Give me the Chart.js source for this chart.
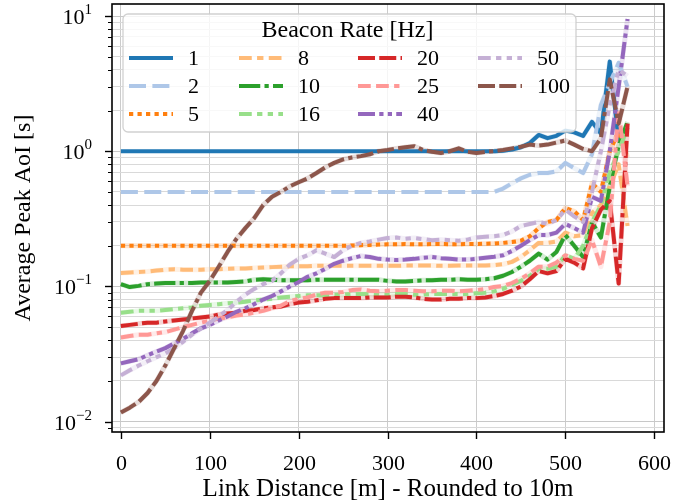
<!DOCTYPE html>
<html>
<head>
<meta charset="utf-8">
<title>Average Peak AoI vs Link Distance</title>
<script src="https://cdn.jsdelivr.net/npm/chart.js@4.4.1/dist/chart.umd.min.js"></script>
<style>
  html, body { margin: 0; padding: 0; background: #ffffff; }
</style>
</head>
<body>
<canvas id="aoiChart" width="697" height="504"></canvas>
<script>
// link distance, rounded to 10 m
const distances = [0, 10, 20, 30, 40, 50, 60, 70, 80, 90,
  100, 110, 120, 130, 140, 150, 160, 170, 180, 190,
  200, 210, 220, 230, 240, 250, 260, 270, 280, 290,
  300, 310, 320, 330, 340, 350, 360, 370, 380, 390,
  400, 410, 420, 430, 440, 450, 460, 470, 480, 490,
  500, 510, 520, 530, 540, 550, 560, 570];

const beaconRates = ['1', '2', '5', '8', '10', '16', '20', '25', '40', '50', '100'];

// average peak AoI [s] per beacon rate
const aoi1 = [1, 1, 1, 1, 1, 1, 1, 1, 1, 1,
  1, 1, 1, 1, 1, 1, 1, 1, 1, 1,
  1, 1, 1, 1, 1, 1, 1, 1, 1, 1,
  1, 1, 1, 1, 1, 1, 1, 1, 1, 1,
  1, 1, 1, 1.01, 1.03, 1.07, 1.15, 1.32, 1.25, 1.3,
  1.42, 1.38, 1.3, 1.65, 1.35, 4.6, 1.2, 1.5];
const aoi2 = [0.5, 0.5, 0.5, 0.5, 0.5, 0.5, 0.5, 0.5, 0.5, 0.5,
  0.5, 0.5, 0.5, 0.5, 0.5, 0.5, 0.5, 0.5, 0.5, 0.5,
  0.5, 0.5, 0.5, 0.5, 0.5, 0.5, 0.5, 0.5, 0.5, 0.5,
  0.5, 0.5, 0.5, 0.5, 0.5, 0.5, 0.5, 0.5, 0.5, 0.5,
  0.5, 0.5, 0.5, 0.53, 0.58, 0.63, 0.67, 0.69, 0.69, 0.71,
  0.82, 0.75, 0.69, 0.95, 2.2, 3.2, 4.5, 3.0];
const aoi5 = [0.2, 0.2, 0.2, 0.2, 0.2, 0.2, 0.2, 0.2, 0.2, 0.2,
  0.2, 0.2, 0.2, 0.2, 0.2, 0.2, 0.2, 0.2, 0.2, 0.2,
  0.2, 0.2, 0.2, 0.2, 0.2, 0.2, 0.201, 0.202, 0.203, 0.204,
  0.205, 0.205, 0.206, 0.205, 0.205, 0.206, 0.206, 0.205, 0.205, 0.206,
  0.206, 0.207, 0.208, 0.21, 0.213, 0.218, 0.235, 0.27, 0.3, 0.31,
  0.38, 0.36, 0.31, 0.58, 0.5, 1.0, 1.4, 0.9];
const aoi8 = [0.126, 0.127, 0.128, 0.129, 0.131, 0.133, 0.134, 0.133, 0.133, 0.133,
  0.134, 0.134, 0.135, 0.136, 0.136, 0.137, 0.138, 0.139, 0.14, 0.141,
  0.141, 0.141, 0.142, 0.142, 0.142, 0.142, 0.142, 0.142, 0.142, 0.142,
  0.142, 0.142, 0.143, 0.143, 0.143, 0.143, 0.142, 0.142, 0.143, 0.143,
  0.143, 0.143, 0.144, 0.146, 0.152, 0.165, 0.185, 0.21, 0.21, 0.215,
  0.25, 0.235, 0.24, 0.35, 0.4, 0.55, 0.8, 0.28];
const aoi10 = [0.104, 0.099, 0.101, 0.104, 0.105, 0.106, 0.106, 0.106, 0.106, 0.107,
  0.107, 0.107, 0.107, 0.108, 0.109, 0.112, 0.113, 0.112, 0.111, 0.111,
  0.111, 0.111, 0.112, 0.112, 0.112, 0.112, 0.112, 0.112, 0.112, 0.112,
  0.11, 0.109, 0.109, 0.11, 0.111, 0.111, 0.112, 0.112, 0.113, 0.112,
  0.112, 0.113, 0.115, 0.12, 0.128, 0.14, 0.155, 0.175, 0.158, 0.18,
  0.24, 0.2, 0.165, 0.3, 0.23, 0.55, 1.1, 1.65];
const aoi16 = [0.064, 0.065, 0.066, 0.066, 0.066, 0.067, 0.068, 0.069, 0.07, 0.072,
  0.073, 0.074, 0.075, 0.076, 0.077, 0.079, 0.08, 0.081, 0.083, 0.084,
  0.085, 0.086, 0.086, 0.086, 0.087, 0.087, 0.088, 0.088, 0.088, 0.087,
  0.087, 0.088, 0.088, 0.087, 0.087, 0.088, 0.088, 0.088, 0.088, 0.088,
  0.089, 0.09, 0.092, 0.096, 0.103, 0.11, 0.12, 0.135, 0.135, 0.14,
  0.17, 0.16, 0.2, 0.3, 0.4, 0.7, 1.0, 1.5];
const aoi20 = [0.051, 0.052, 0.053, 0.054, 0.054, 0.055, 0.056, 0.057, 0.058, 0.059,
  0.06, 0.062, 0.063, 0.064, 0.066, 0.067, 0.069, 0.07, 0.071, 0.074,
  0.076, 0.077, 0.079, 0.081, 0.082, 0.082, 0.082, 0.082, 0.083, 0.083,
  0.083, 0.084, 0.084, 0.083, 0.081, 0.08, 0.08, 0.081, 0.081, 0.082,
  0.082, 0.083, 0.085, 0.088, 0.093, 0.1, 0.113, 0.13, 0.125, 0.13,
  0.16, 0.15, 0.136, 0.27, 0.37, 0.43, 0.105, 1.6];
const aoi25 = [0.042, 0.043, 0.044, 0.044, 0.045, 0.046, 0.048, 0.05, 0.052, 0.054,
  0.056, 0.058, 0.059, 0.061, 0.062, 0.064, 0.066, 0.069, 0.072, 0.078,
  0.081, 0.083, 0.087, 0.09, 0.09, 0.091, 0.094, 0.095, 0.093, 0.092,
  0.093, 0.094, 0.094, 0.093, 0.092, 0.092, 0.093, 0.093, 0.092, 0.093,
  0.094, 0.096, 0.099, 0.101, 0.106, 0.114, 0.125, 0.14, 0.14, 0.15,
  0.17, 0.16, 0.155, 0.22, 0.14, 0.3, 2.0, 0.55];
const aoi40 = [0.027, 0.028, 0.029, 0.031, 0.033, 0.035, 0.038, 0.041, 0.045, 0.049,
  0.052, 0.056, 0.06, 0.065, 0.069, 0.074, 0.08, 0.085, 0.092, 0.1,
  0.108, 0.118, 0.125, 0.135, 0.147, 0.155, 0.162, 0.168, 0.165, 0.16,
  0.158, 0.157, 0.158, 0.16, 0.163, 0.165, 0.162, 0.16, 0.158, 0.158,
  0.16, 0.163, 0.166, 0.17, 0.183, 0.2, 0.22, 0.24, 0.24, 0.25,
  0.29, 0.27, 0.25, 0.46, 0.43, 1.0, 3.0, 9.5];
const aoi50 = [0.022, 0.024, 0.026, 0.028, 0.03, 0.032, 0.035, 0.039, 0.044, 0.049,
  0.054, 0.06, 0.067, 0.077, 0.087, 0.096, 0.104, 0.11, 0.125, 0.145,
  0.16, 0.17, 0.185, 0.175, 0.165, 0.185, 0.2, 0.21, 0.215, 0.222,
  0.228, 0.23, 0.225, 0.228, 0.224, 0.22, 0.222, 0.22, 0.218, 0.222,
  0.23, 0.233, 0.235, 0.24, 0.255, 0.28, 0.29, 0.3, 0.29, 0.31,
  0.37, 0.33, 0.3, 0.5, 1.0, 2.2, 4.0, 3.6];
const aoi100 = [0.0117, 0.0127, 0.014, 0.0163, 0.02, 0.026, 0.035, 0.047, 0.066, 0.09,
  0.11, 0.14, 0.18, 0.225, 0.27, 0.32, 0.4, 0.46, 0.5, 0.55,
  0.59, 0.63, 0.69, 0.76, 0.82, 0.87, 0.9, 0.92, 0.95, 1.0,
  1.02, 1.05, 1.07, 1.09, 1.02, 0.99, 0.97, 1.0, 1.05, 0.99,
  0.97, 0.99, 1.0, 1.02, 1.05, 1.08, 1.12, 1.1, 1.12, 1.16,
  1.2, 1.12, 1.04, 1.0, 1.25, 3.4, 1.6, 3.0];

const allSeries = [aoi1, aoi2, aoi5, aoi8, aoi10, aoi16, aoi20, aoi25, aoi40, aoi50, aoi100];

const xTicks = [0, 100, 200, 300, 400, 500, 600];
const yDecades = [-2, -1, 0, 1];

// tab20 colours and seaborn dash styles (in line widths)
const lineColors = ['#1f77b4', '#aec7e8', '#ff7f0e', '#ffbb78', '#2ca02c', '#98df8a',
  '#d62728', '#ff9896', '#9467bd', '#c5b0d5', '#8c564b'];
const dashPatterns = [
  [],
  [4, 1.5],
  [1, 1],
  [3, 1.25, 1.5, 1.25],
  [5, 1, 1, 1],
  [3, 1.25, 1.25, 1.25, 1.25, 1.25],
  [4, 1, 4, 1, 1, 1],
  [3, 1.25, 3, 1.25, 1.25, 1.25],
  [4, 1, 1, 1, 1, 1],
  [3, 1.25, 1.25, 1.25, 1.25, 1.25, 1.25, 1.25],
  [4, 1, 4, 1, 4, 1, 1, 1]
];
const lineWidth = 4;
const dashUnit = 4.25;
const serif = '"Liberation Serif", "DejaVu Serif", serif';

function withAlpha(hex, a) {
  const n = parseInt(hex.slice(1), 16);
  return `rgba(${(n >> 16) & 255}, ${(n >> 8) & 255}, ${n & 255}, ${a})`;
}

const datasets = [];
allSeries.forEach((vals, i) => {
  const pts = distances.map((d, k) => ({ x: d, y: vals[k] }));
  // pale band under each line, shows in the dash gaps
  const haloColor = withAlpha(lineColors[i], 0.2);
  datasets.push({
    label: beaconRates[i] + ' band',
    data: pts,
    borderColor: haloColor,
    borderWidth: 5,
    order: 100,
    segment: {
      borderColor: ctx => (i < 2 && ctx.p0.parsed.x < 420) ? 'rgba(0,0,0,0)' : haloColor
    }
  });
  datasets.push({
    label: beaconRates[i],
    data: pts,
    borderColor: lineColors[i],
    borderWidth: lineWidth,
    borderDash: dashPatterns[i].map(v => v * dashUnit),
    order: 20 - i
  });
});

const frameAndTicks = {
  id: 'frameAndTicks',
  afterDraw(chart) {
    const { ctx, chartArea: a, scales } = chart;
    ctx.save();
    ctx.strokeStyle = '#000';
    ctx.fillStyle = '#000';
    // x ticks and labels
    ctx.lineWidth = 1.4;
    ctx.font = '22px ' + serif;
    ctx.textAlign = 'center';
    ctx.textBaseline = 'middle';
    scales.x.ticks.forEach(t => {
      const px = Math.round(scales.x.getPixelForValue(t.value)) + 0.5;
      ctx.beginPath(); ctx.moveTo(px, a.bottom); ctx.lineTo(px, a.bottom + 7); ctx.stroke();
      ctx.fillText(String(t.value), px, a.bottom + 32);
    });
    // y ticks, major and minor
    scales.y.ticks.forEach(t => {
      const py = Math.round(scales.y.getPixelForValue(t.value)) + 0.5;
      ctx.lineWidth = t.major ? 1.4 : 1;
      ctx.beginPath(); ctx.moveTo(a.left, py); ctx.lineTo(a.left - (t.major ? 7 : 4), py); ctx.stroke();
    });
    // y tick labels as 10^k
    ctx.textBaseline = 'alphabetic';
    ctx.textAlign = 'left';
    yDecades.forEach(e => {
      const py = scales.y.getPixelForValue(Math.pow(10, e));
      const exp = e < 0 ? '\u2212' + Math.abs(e) : String(e);
      ctx.font = '15px ' + serif;
      const ew = ctx.measureText(exp).width;
      ctx.font = '22px ' + serif;
      const bw = ctx.measureText('10').width;
      const right = a.left - 20;
      ctx.fillText('10', right - ew - bw, py + 8);
      ctx.font = '15px ' + serif;
      ctx.fillText(exp, right - ew, py - 2);
    });
    // frame
    ctx.lineWidth = 1.6;
    ctx.strokeRect(a.left, a.top, a.right - a.left, a.bottom - a.top);
    ctx.restore();
  }
};

const beaconLegend = {
  id: 'beaconLegend',
  afterDraw(chart) {
    const { ctx, chartArea: a } = chart;
    const x0 = a.left + 11, y0 = a.top + 10, w = 453, h = 118, r = 5;
    ctx.save();
    ctx.beginPath();
    ctx.moveTo(x0 + r, y0);
    ctx.arcTo(x0 + w, y0, x0 + w, y0 + h, r);
    ctx.arcTo(x0 + w, y0 + h, x0, y0 + h, r);
    ctx.arcTo(x0, y0 + h, x0, y0, r);
    ctx.arcTo(x0, y0, x0 + w, y0, r);
    ctx.closePath();
    ctx.fillStyle = 'rgba(255,255,255,0.8)';
    ctx.fill();
    ctx.strokeStyle = 'rgba(204,204,204,0.9)';
    ctx.lineWidth = 1.3;
    ctx.stroke();

    ctx.fillStyle = '#000';
    ctx.font = '24px ' + serif;
    ctx.textAlign = 'center';
    ctx.textBaseline = 'middle';
    ctx.fillText('Beacon Rate [Hz]', x0 + w / 2 - 2, y0 + 17);

    const colX = [6, 116, 235, 355];
    const rowY = [44, 72, 100];
    ctx.textAlign = 'left';
    ctx.font = '22px ' + serif;
    beaconRates.forEach((rate, i) => {
      const col = Math.floor(i / 3), row = i % 3;
      const hx = x0 + colX[col], hy = y0 + rowY[row];
      ctx.strokeStyle = lineColors[i];
      ctx.lineWidth = lineWidth;
      ctx.setLineDash(dashPatterns[i].map(v => v * dashUnit));
      ctx.beginPath(); ctx.moveTo(hx, hy); ctx.lineTo(hx + 44, hy); ctx.stroke();
      ctx.setLineDash([]);
      ctx.fillText(rate, hx + 59, hy + 1);
    });
    ctx.restore();
  }
};

new Chart(document.getElementById('aoiChart'), {
  type: 'line',
  data: { datasets },
  options: {
    responsive: false,
    animation: false,
    layout: { padding: { top: 4, right: 33, left: 0, bottom: 0 } },
    elements: {
      point: { radius: 0 },
      line: { tension: 0, borderJoinStyle: 'round', borderCapStyle: 'butt' }
    },
    plugins: {
      legend: { display: false },
      tooltip: { enabled: false }
    },
    scales: {
      x: {
        type: 'linear',
        min: -10,
        max: 611,
        afterBuildTicks: scale => { scale.ticks = xTicks.map(v => ({ value: v })); },
        afterFit: scale => { scale.height = 72; },
        ticks: { autoSkip: false, display: false },
        grid: { drawTicks: false, color: '#cccccc', lineWidth: 1 },
        border: { display: false },
        title: {
          display: true,
          text: 'Link Distance [m] - Rounded to 10m',
          color: '#000',
          font: { family: serif, size: 25 },
          padding: { top: 0, bottom: 0 }
        }
      },
      y: {
        type: 'logarithmic',
        min: 0.00839,
        max: 12.27,
        afterBuildTicks: scale => {
          const ticks = [];
          for (let e = -3; e <= 1; e++) {
            for (let m = 1; m <= 9; m++) {
              const v = m * Math.pow(10, e);
              if (v >= scale.min && v <= scale.max) ticks.push({ value: v, major: m === 1 });
            }
          }
          scale.ticks = ticks;
        },
        afterFit: scale => { scale.width = 112; },
        ticks: { autoSkip: false, display: false },
        grid: {
          drawTicks: false,
          lineWidth: 1,
          color: ctx => (ctx.tick && ctx.tick.major) ? '#c8c8c8' : '#d9d9d9'
        },
        border: { display: false },
        title: {
          display: true,
          text: 'Average Peak AoI [s]',
          color: '#000',
          font: { family: serif, size: 24 },
          padding: { top: 9, bottom: 0 }
        }
      }
    }
  },
  plugins: [frameAndTicks, beaconLegend]
});
</script>
</body>
</html>
